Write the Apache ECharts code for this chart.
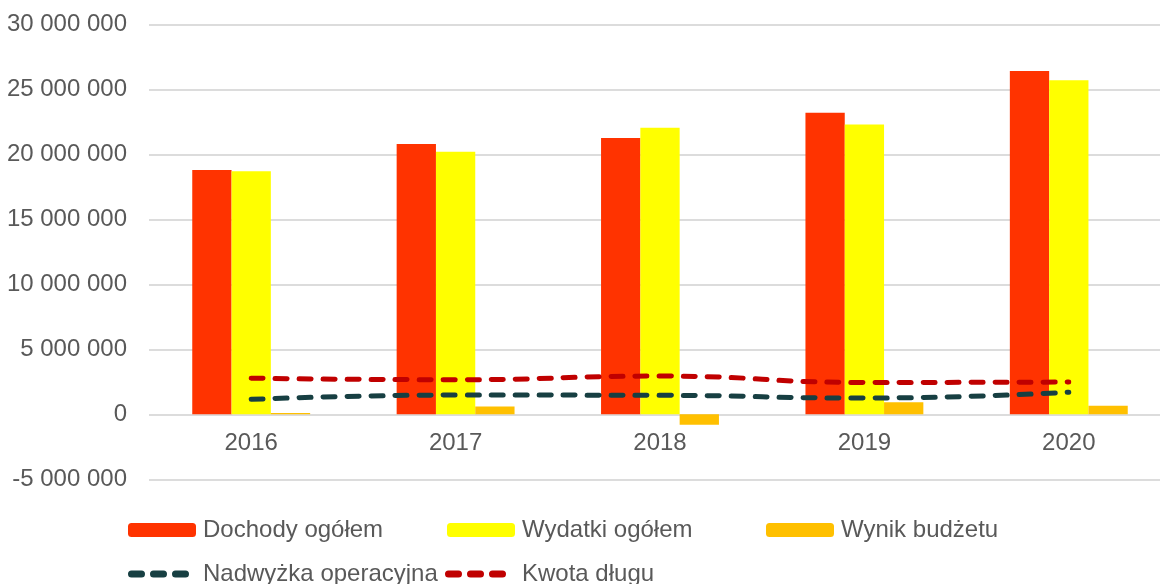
<!DOCTYPE html>
<html>
<head>
<meta charset="utf-8">
<script src="https://cdn.jsdelivr.net/npm/echarts@6/dist/echarts.min.js"></script>
<style>
	html, body {margin: 0; padding: 0; background: #fff;}
	#chart {width: 1160px; height: 584px;}
</style>
</head>
<body>
<div id="chart"></div>
<script>
let years = ['2016', '2017', '2018', '2019', '2020'];
let dochody = [18800000, 20800000, 21250000, 23200000, 26400000];
let wydatki = [18700000, 20200000, 22050000, 22300000, 25700000];
let wynik = [100000, 600000, -800000, 920000, 650000];
let nadwyzka = [1150000, 1480000, 1460000, 1250000, 1700000];
let dlug = [2780000, 2660000, 2940000, 2450000, 2480000];

let textColor = '#595959';
let font = 'Liberation Sans, Arial, sans-serif';

let formatNumber = (v) => {
	let s = String(Math.abs(v)).replace(/\B(?=(\d{3})+(?!\d))/g, ' ');
	return (v < 0 ? '-' : '') + s;
};

// three rounded dashes, as in the original legend
let dashIcon = 'path://M3.5,0L13.5,0A3.5,3.5,0,0,1,13.5,7L3.5,7A3.5,3.5,0,0,1,3.5,0Z'
	+ 'M25.5,0L35.5,0A3.5,3.5,0,0,1,35.5,7L25.5,7A3.5,3.5,0,0,1,25.5,0Z'
	+ 'M47.5,0L57.5,0A3.5,3.5,0,0,1,57.5,7L47.5,7A3.5,3.5,0,0,1,47.5,0Z';

let barLegend = (name, left) => ({
	data: [name],
	left: left,
	top: 518,
	padding: 0,
	itemWidth: 68,
	itemHeight: 14,
	textStyle: {color: textColor, fontSize: 24, fontFamily: font, padding: [0, 0, 0, 2]},
	selectedMode: false,
});
let lineLegend = (name, left, gap) => ({
	data: [{name: name, icon: dashIcon}],
	left: left,
	top: 562,
	padding: 0,
	itemWidth: 61,
	itemHeight: 7,
	textStyle: {color: textColor, fontSize: 24, fontFamily: font, padding: [0, 0, 0, gap]},
	selectedMode: false,
});

let chart = echarts.init(document.getElementById('chart'));
chart.setOption({
	animation: false,
	grid: {left: 149, width: 1022, top: 24.3, height: 455, outerBoundsMode: 'none'},
	legend: [
		barLegend('Dochody ogółem', 128),
		barLegend('Wydatki ogółem', 447),
		barLegend('Wynik budżetu', 766),
		lineLegend('Nadwyżka operacyjna', 128, 9),
		lineLegend('Kwota długu', 445, 11),
	],
	xAxis: {
		type: 'category',
		data: years,
		offset: -65,
		axisTick: {show: false},
		axisLine: {show: false, onZero: false},
		axisLabel: {color: textColor, fontSize: 24, fontFamily: font, margin: 17},
	},
	yAxis: {
		type: 'value',
		min: -5000000,
		max: 30000000,
		interval: 5000000,
		axisLine: {show: false},
		axisTick: {show: false},
		splitLine: {lineStyle: {color: '#dcdcdc', width: 2}},
		axisLabel: {
			color: textColor,
			fontSize: 24,
			fontFamily: font,
			margin: 22,
			formatter: formatNumber,
		},
	},
	series: [
		{name: 'Dochody ogółem', type: 'bar', data: dochody, barWidth: 39.3, barGap: '0%', itemStyle: {color: '#ff3300'}},
		{name: 'Wydatki ogółem', type: 'bar', data: wydatki, barWidth: 39.3, barGap: '0%', itemStyle: {color: '#ffff00'}},
		{name: 'Wynik budżetu', type: 'bar', data: wynik, barWidth: 39.3, barGap: '0%', itemStyle: {color: '#ffc000'}},
		{
			name: 'Nadwyżka operacyjna', type: 'line', data: nadwyzka, smooth: true, symbol: 'none', z: 5,
			itemStyle: {color: '#173f42'},
			lineStyle: {color: '#173f42', width: 5, type: [12, 12], cap: 'round'},
		},
		{
			name: 'Kwota długu', type: 'line', data: dlug, smooth: true, symbol: 'none', z: 5,
			itemStyle: {color: '#c00000'},
			lineStyle: {color: '#c00000', width: 5, type: [12, 12], cap: 'round'},
		},
	],
});
</script>
</body>
</html>
